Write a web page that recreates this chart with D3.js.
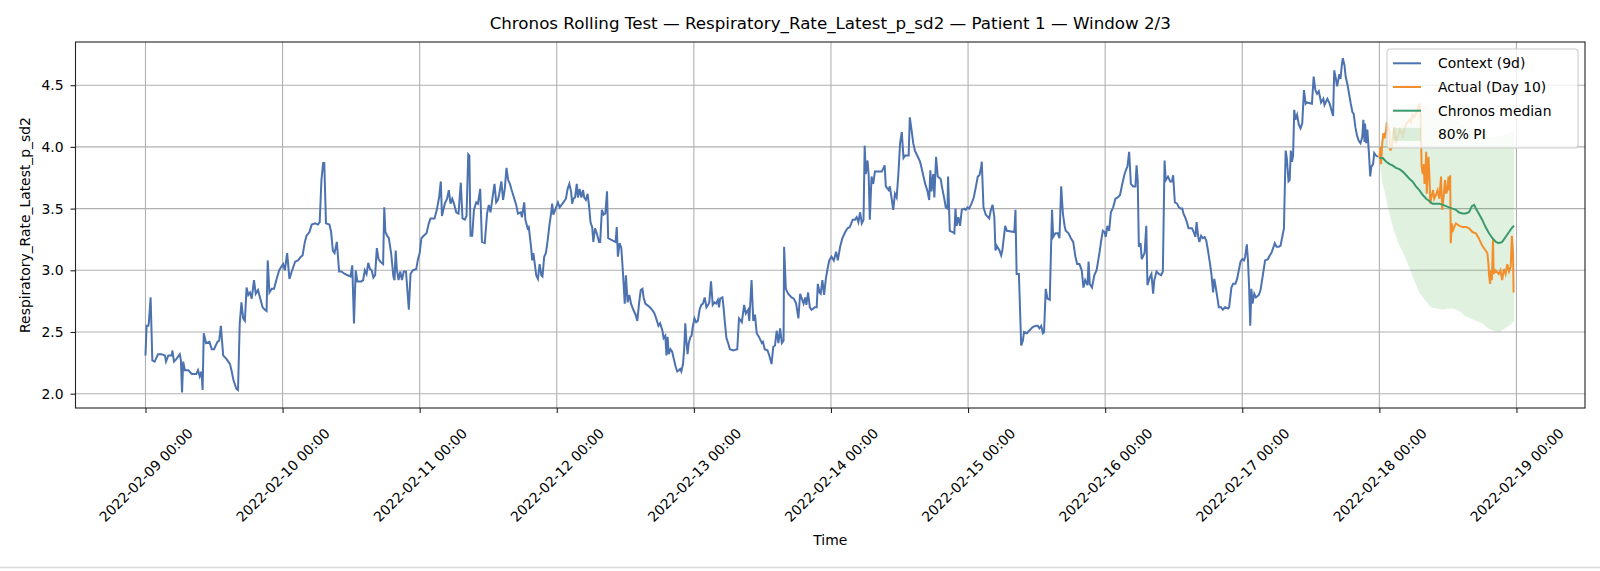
<!DOCTYPE html>
<html>
<head>
<meta charset="utf-8">
<script src="https://cdn.jsdelivr.net/npm/d3@7"></script>
<style>
  body { margin: 0; background: #fff; }
  text { font-family: "DejaVu Sans", sans-serif; fill: #000; }
</style>
</head>
<body>
<svg id="chart"></svg>
<script>
// Chart size
const width = 1600;
const height = 571;
const margin = { top: 42, right: 15, bottom: 163, left: 75.5 };

// Data: [hours since 2022-02-09 00:00, value]
const contextSeries = [
  [0,2.31],[0.2,2.55],[0.5,2.55],[0.6,2.58],[0.9,2.78],[1.2,2.27],[1.6,2.26],[2.2,2.32],[2.8,2.32],[3.4,2.31],
  [3.6,2.26],[4.0,2.31],[4.6,2.31],[4.7,2.35],[5.0,2.26],[5.4,2.28],[6.0,2.32],[6.2,2.27],[6.4,2.01],[6.6,2.26],
  [6.9,2.19],[7.5,2.19],[8.1,2.16],[8.9,2.16],[9.2,2.19],[9.5,2.14],[9.8,2.18],[10.0,2.03],[10.2,2.49],[10.6,2.41],
  [11.2,2.42],[11.6,2.36],[12.0,2.36],[12.6,2.42],[12.9,2.43],[13.2,2.55],[13.6,2.31],[14.2,2.28],[14.8,2.24],[15.1,2.18],
  [15.4,2.11],[15.9,2.04],[16.2,2.03],[16.5,2.57],[16.8,2.74],[17.1,2.61],[17.4,2.59],[17.7,2.86],[18.0,2.80],[18.3,2.82],
  [18.6,2.77],[19.0,2.92],[19.3,2.81],[19.7,2.84],[20.1,2.77],[20.5,2.70],[20.9,2.68],[21.2,2.67],[21.4,3.08],[21.7,2.82],
  [22.1,2.85],[22.5,2.85],[22.9,2.92],[23.4,3.00],[23.8,3.03],[24.1,3.05],[24.4,3.00],[24.8,3.14],[25.2,2.93],[25.6,2.99],
  [26.2,3.07],[26.7,3.08],[27.2,3.11],[27.5,3.12],[27.9,3.23],[28.2,3.28],[28.7,3.31],[29.1,3.37],[29.7,3.38],[30.2,3.37],
  [30.5,3.39],[30.8,3.73],[31.1,3.87],[31.3,3.87],[31.6,3.38],[32.2,3.37],[32.5,3.31],[32.8,3.16],[33.1,3.14],[33.5,3.23],
  [33.9,2.99],[34.3,2.99],[34.9,2.97],[35.4,2.96],[35.9,2.95],[36.2,3.04],[36.5,2.57],[36.8,3.00],[37.1,2.91],[37.8,2.91],
  [38.1,2.92],[38.4,3.00],[38.7,2.97],[39.0,3.06],[39.3,3.01],[39.6,3.00],[39.9,2.94],[40.2,2.96],[40.5,3.18],[40.8,3.09],
  [41.1,3.07],[41.6,3.05],[41.8,3.51],[42.0,3.31],[42.3,3.28],[42.6,3.26],[43.0,3.14],[43.4,2.95],[43.6,2.92],[43.8,3.16],
  [44.0,3.01],[44.3,2.92],[44.6,2.99],[44.9,2.92],[45.2,2.99],[45.6,2.99],[45.9,2.81],[46.1,2.68],[46.4,2.97],[46.8,3.00],
  [47.4,3.01],[47.7,3.09],[48.0,3.14],[48.3,3.26],[48.5,3.27],[48.7,3.28],[49.2,3.30],[49.6,3.38],[49.9,3.42],[50.6,3.42],
  [51.0,3.49],[51.4,3.59],[51.7,3.72],[51.9,3.44],[52.4,3.54],[52.8,3.58],[53.1,3.65],[53.4,3.54],[53.7,3.58],[54.0,3.54],
  [54.4,3.47],[54.8,3.46],[55.2,3.71],[55.5,3.42],[55.9,3.41],[56.2,3.44],[56.5,3.94],[56.7,3.93],[56.9,3.28],[57.2,3.28],
  [57.5,3.49],[57.9,3.55],[58.2,3.54],[58.6,3.66],[58.9,3.23],[59.4,3.22],[59.8,3.46],[60.1,3.53],[60.4,3.47],[60.7,3.57],
  [61.1,3.70],[61.4,3.55],[61.7,3.57],[61.9,3.61],[62.3,3.72],[62.6,3.57],[62.9,3.66],[63.2,3.83],[63.5,3.73],[63.8,3.70],
  [64.1,3.65],[64.5,3.59],[64.9,3.53],[65.2,3.46],[65.7,3.47],[65.9,3.43],[66.3,3.55],[66.5,3.41],[66.9,3.34],[67.1,3.35],
  [67.5,3.19],[67.7,3.08],[67.9,3.14],[68.1,3.07],[68.4,2.96],[68.7,2.93],[69.0,3.05],[69.3,2.96],[69.5,2.95],[69.8,3.11],
  [70.1,3.14],[70.4,3.24],[70.7,3.36],[71.0,3.46],[71.2,3.54],[71.4,3.45],[71.8,3.50],[72.2,3.55],[72.5,3.51],[73.0,3.54],
  [73.6,3.58],[73.9,3.66],[74.2,3.70],[74.5,3.64],[74.7,3.54],[74.9,3.58],[75.2,3.59],[75.5,3.70],[75.7,3.59],[76.0,3.66],
  [76.3,3.59],[76.6,3.65],[76.8,3.59],[77.1,3.57],[77.4,3.62],[77.7,3.50],[77.9,3.39],[78.2,3.35],[78.4,3.23],[78.7,3.34],
  [79.0,3.30],[79.4,3.23],[79.6,3.23],[79.9,3.49],[80.2,3.45],[80.5,3.46],[80.8,3.64],[81.0,3.26],[81.8,3.24],[82.3,3.23],
  [82.5,3.35],[82.7,3.11],[83.0,3.22],[83.3,3.18],[83.6,2.97],[83.9,2.73],[84.1,2.96],[84.4,2.74],[84.7,2.80],[85.0,2.73],
  [85.4,2.68],[85.8,2.64],[86.1,2.59],[86.4,2.73],[86.7,2.84],[87.0,2.85],[87.2,2.78],[87.5,2.73],[88.3,2.70],[88.7,2.68],
  [89.1,2.65],[89.4,2.61],[89.8,2.55],[90.1,2.57],[90.5,2.51],[90.7,2.45],[91.0,2.47],[91.2,2.31],[91.4,2.46],[91.6,2.32],
  [91.9,2.36],[92.2,2.34],[92.5,2.28],[92.8,2.22],[93.1,2.18],[93.4,2.19],[93.6,2.20],[93.8,2.18],[94.1,2.24],[94.3,2.36],
  [94.5,2.57],[94.7,2.42],[94.9,2.32],[95.1,2.41],[95.4,2.46],[95.6,2.47],[95.8,2.54],[96.1,2.61],[96.4,2.58],[96.7,2.59],
  [97.0,2.68],[97.3,2.72],[97.6,2.73],[97.9,2.78],[98.2,2.70],[98.5,2.72],[98.7,2.74],[99.0,2.91],[99.3,2.72],[99.6,2.74],
  [99.9,2.73],[100.2,2.76],[100.4,2.70],[100.6,2.77],[101.0,2.78],[101.2,2.70],[101.4,2.59],[101.7,2.45],[102.0,2.41],[102.3,2.36],
  [102.9,2.35],[103.6,2.36],[103.9,2.61],[104.4,2.58],[104.8,2.72],[105.1,2.65],[105.5,2.68],[105.7,2.59],[106.1,2.92],[106.4,2.59],
  [106.7,2.64],[107.0,2.49],[107.4,2.46],[107.9,2.41],[108.1,2.42],[108.4,2.36],[108.9,2.35],[109.2,2.31],[109.6,2.24],[109.9,2.38],
  [110.2,2.39],[110.5,2.51],[110.8,2.41],[111.1,2.53],[111.4,2.41],[111.7,2.43],[111.8,3.19],[112.1,2.85],[112.5,2.81],[113.1,2.78],
  [113.5,2.77],[113.9,2.73],[114.3,2.61],[114.6,2.81],[114.9,2.77],[115.2,2.73],[115.5,2.78],[115.7,2.72],[116.0,2.82],[116.3,2.70],
  [116.6,2.68],[117.2,2.70],[117.5,2.70],[117.7,2.89],[118.0,2.82],[118.2,2.81],[118.5,2.92],[118.8,2.80],[119.1,2.93],[119.4,3.01],
  [119.7,3.08],[120.1,3.11],[120.5,3.08],[120.9,3.15],[121.2,3.08],[121.6,3.19],[122.0,3.26],[122.5,3.31],[122.9,3.34],[123.3,3.35],
  [123.8,3.41],[124.2,3.41],[124.5,3.43],[124.8,3.39],[125.1,3.47],[125.4,3.38],[125.7,3.41],[125.9,4.01],[126.1,3.78],[126.4,3.89],
  [126.6,3.77],[126.8,3.41],[127.1,3.76],[127.4,3.70],[127.7,3.80],[128.9,3.80],[129.4,3.85],[129.6,3.68],[130.1,3.65],[130.3,3.68],
  [130.6,3.59],[130.9,3.49],[131.2,3.62],[131.5,3.59],[131.8,3.78],[132.1,4.03],[132.4,4.12],[132.7,3.91],[133.0,3.93],[133.6,3.93],
  [133.8,4.24],[134.1,4.14],[134.4,4.03],[134.7,3.97],[135.1,3.93],[135.6,3.88],[135.9,3.82],[136.2,3.76],[136.5,3.70],[136.9,3.64],
  [137.2,3.57],[137.4,3.81],[137.6,3.64],[137.9,3.78],[138.1,3.59],[138.4,3.92],[138.7,3.76],[139.2,3.74],[139.5,3.66],[139.8,3.59],
  [140.1,3.51],[140.4,3.50],[140.5,3.76],[140.8,3.32],[141.3,3.31],[141.6,3.30],[141.8,3.50],[142.0,3.36],[142.3,3.43],[142.6,3.36],
  [142.9,3.49],[143.3,3.50],[143.6,3.49],[143.9,3.51],[144.2,3.50],[144.6,3.54],[145.0,3.59],[145.3,3.66],[145.7,3.76],[146.0,3.77],
  [146.3,3.84],[146.4,3.88],[146.7,3.51],[147.1,3.45],[147.7,3.42],[148.0,3.49],[148.3,3.53],[148.6,3.43],[148.8,3.16],[149.0,3.20],
  [149.5,3.16],[149.8,3.12],[150.0,3.16],[150.5,3.36],[150.8,3.32],[152.1,3.31],[152.3,3.49],[152.5,2.97],[152.9,2.97],[153.3,2.39],
  [153.6,2.43],[153.8,2.50],[154.3,2.49],[154.7,2.51],[155.3,2.54],[155.9,2.55],[156.2,2.55],[156.5,2.53],[156.8,2.55],[157.1,2.49],
  [157.3,2.50],[157.6,2.85],[157.9,2.77],[158.3,2.76],[158.7,3.49],[158.9,3.27],[159.3,3.30],[159.7,3.30],[160.0,3.26],[160.3,3.68],
  [160.6,3.46],[160.9,3.36],[161.1,3.32],[161.6,3.30],[162.0,3.26],[162.4,3.23],[162.8,3.11],[163.1,3.05],[163.5,3.05],[163.9,3.00],
  [164.2,2.86],[164.5,2.92],[164.9,2.88],[165.1,3.07],[165.3,2.89],[165.7,2.86],[166.1,2.96],[166.5,3.00],[167.0,3.14],[167.3,3.24],
  [167.6,3.32],[167.9,3.31],[168.1,3.27],[168.4,3.36],[168.7,3.32],[169.0,3.47],[169.4,3.51],[169.8,3.58],[170.2,3.59],[170.6,3.61],
  [171.0,3.70],[171.4,3.78],[171.7,3.82],[171.9,3.84],[172.2,3.96],[172.5,3.70],[172.9,3.68],[173.3,3.68],[173.5,3.85],[173.7,3.73],
  [173.9,3.19],[174.2,3.22],[174.4,3.09],[174.9,3.14],[175.2,3.36],[175.4,2.88],[175.8,2.94],[176.1,2.97],[176.4,2.81],[176.6,2.92],
  [177.0,2.99],[177.4,2.97],[177.8,2.96],[178.1,2.99],[178.4,3.89],[178.6,3.73],[179.0,3.76],[179.4,3.72],[179.7,3.72],[179.9,3.77],
  [180.2,3.55],[180.6,3.54],[180.9,3.51],[181.2,3.50],[181.5,3.50],[181.7,3.46],[182.0,3.43],[182.3,3.39],[182.6,3.34],[183.2,3.34],
  [183.5,3.31],[183.8,3.27],[184.0,3.39],[184.3,3.27],[184.5,3.23],[184.8,3.28],[185.1,3.26],[185.4,3.27],[185.7,3.24],[186.0,3.16],
  [186.3,3.07],[186.6,2.97],[186.9,2.82],[187.1,2.93],[187.3,2.88],[187.5,2.82],[187.9,2.70],[188.3,2.70],[188.6,2.68],[189.0,2.70],
  [189.5,2.69],[189.7,2.70],[190.1,2.86],[190.4,2.89],[190.8,2.89],[191.1,2.93],[191.4,3.00],[191.7,3.07],[192.0,3.09],[192.3,3.08],
  [192.5,3.11],[192.8,3.21],[193.0,3.08],[193.2,2.86],[193.4,2.55],[193.6,2.85],[193.8,2.73],[194.1,2.81],[194.4,2.78],[194.9,2.80],
  [195.2,2.84],[195.6,2.96],[196.0,3.08],[196.5,3.09],[196.8,3.12],[197.1,3.14],[197.4,3.18],[197.7,3.22],[198.0,3.19],[198.4,3.19],
  [198.7,3.20],[199.0,3.27],[199.3,3.34],[199.4,3.57],[199.6,3.97],[199.8,3.91],[200.1,3.72],[200.3,3.73],[200.5,3.97],[200.7,3.88],
  [200.9,3.93],[201.1,4.30],[201.3,4.22],[201.6,4.26],[201.9,4.18],[202.2,4.15],[202.5,4.19],[202.8,4.46],[203.1,4.35],[203.3,4.36],
  [204.2,4.35],[204.5,4.57],[204.8,4.46],[205.1,4.43],[205.4,4.45],[205.8,4.36],[206.2,4.39],[206.4,4.34],[206.9,4.39],[207.3,4.35],
  [207.6,4.30],[207.9,4.25],[208.1,4.62],[208.4,4.55],[208.6,4.49],[209.0,4.59],[209.2,4.55],[209.4,4.65],[209.6,4.72],[209.9,4.66],
  [210.1,4.57],[210.4,4.51],[210.7,4.43],[211.0,4.35],[211.3,4.28],[211.5,4.27],[211.8,4.16],[212.1,4.09],[212.4,4.05],[212.7,4.03],
  [213.0,4.08],[213.2,4.22],[213.4,4.04],[213.5,4.19],[213.7,4.03],[213.9,4.14],[214.2,3.93],[214.4,3.76],[214.6,3.84],[214.9,3.86],
  [215.1,3.95],[215.4,3.93],[215.75,3.92]
];

const actualSeries = [
  [216.0,3.91],[216.2,4.00],[216.3,3.86],[216.5,4.03],[216.7,4.11],[216.9,4.07],[217.2,4.14],[217.3,4.20],[217.8,4.12],[217.9,3.97],
  [218.2,4.00],[218.4,4.11],[218.6,4.16],[218.9,4.03],[219.1,4.07],[219.6,4.14],[220.1,4.09],[220.4,4.14],[220.7,4.19],[221.3,4.22],
  [221.5,4.20],[221.8,4.26],[222.1,4.24],[222.4,4.27],[222.7,4.30],[223.0,4.35],[223.2,4.27],[223.3,4.05],[223.4,3.84],[223.6,3.78],
  [223.8,3.86],[223.9,3.70],[224.1,3.82],[224.2,3.96],[224.3,3.62],[224.6,3.92],[224.8,3.73],[224.9,3.54],[225.2,3.61],[225.4,3.65],
  [225.6,3.58],[225.9,3.61],[226.2,3.65],[226.5,3.58],[226.8,3.76],[227.0,3.49],[227.3,3.62],[227.5,3.73],[227.7,3.62],[227.9,3.65],
  [228.1,3.76],[228.2,3.65],[228.4,3.77],[228.5,3.22],[228.7,3.38],[228.8,3.31],[229.1,3.35],[229.4,3.38],[230.0,3.36],[230.6,3.35],
  [231.2,3.35],[231.7,3.34],[232.3,3.31],[232.9,3.30],[233.4,3.26],[234.0,3.20],[234.6,3.16],[234.9,3.14],[235.1,3.05],[235.2,2.96],
  [235.4,2.89],[235.5,3.00],[235.7,2.92],[235.9,3.26],[236.0,2.97],[236.3,3.00],[236.9,2.97],[237.2,3.00],[237.5,2.92],[237.8,3.01],
  [238.1,2.97],[238.4,3.05],[238.7,2.99],[239.0,3.03],[239.2,3.28],[239.4,3.14],[239.5,2.82]
];

const medianSeries = [
  [216.0,3.91],[216.6,3.91],[217.2,3.88],[217.8,3.86],[218.3,3.85],[218.9,3.83],[219.5,3.82],[220.1,3.80],[220.7,3.77],[221.3,3.74],
  [221.8,3.72],[222.4,3.68],[223.0,3.65],[223.6,3.61],[224.2,3.58],[224.8,3.56],[225.3,3.54],[225.9,3.54],[226.5,3.54],[227.1,3.53],
  [227.7,3.52],[228.2,3.51],[228.8,3.50],[229.4,3.49],[229.9,3.47],[230.5,3.46],[231.1,3.46],[231.7,3.47],[232.2,3.52],[232.6,3.53],
  [232.9,3.50],[233.4,3.46],[234.0,3.41],[234.6,3.35],[235.2,3.30],[235.8,3.26],[236.4,3.23],[236.9,3.22],[237.5,3.23],[238.1,3.27],
  [238.7,3.31],[239.3,3.35],[239.6,3.36]
];

// 80% prediction interval: [hour, lower, upper]
const piBand = [
  [216.0,3.89,3.93],[216.5,3.72,4.05],[217.0,3.62,4.15],[217.5,3.51,4.22],[218.0,3.41,4.27],[218.5,3.33,4.30],
  [219.0,3.26,4.32],[219.5,3.20,4.33],[220.0,3.16,4.34],[221.0,3.05,4.35],[222.0,2.93,4.35],[223.0,2.82,4.34],
  [224.0,2.76,4.33],[225.0,2.70,4.31],[226.0,2.69,4.29],[227.0,2.68,4.27],[228.0,2.69,4.25],[229.0,2.69,4.22],
  [230.0,2.67,4.20],[231.0,2.63,4.17],[232.0,2.61,4.15],[233.0,2.59,4.12],[234.0,2.57,4.10],[235.0,2.53,4.08],
  [236.0,2.51,4.08],[237.0,2.50,4.09],[238.0,2.53,4.10],[239.0,2.56,4.12],[239.6,2.59,4.14]
];

const yTicks = [2.0, 2.5, 3.0, 3.5, 4.0, 4.5];
const legendLabels = ['Context (9d)', 'Actual (Day 10)', 'Chronos median', '80% PI'];
const colors = { context: '#4c72b0', actual: '#f28e2b', median: '#3a9a6e', band: '#2ca02c' };

const t0 = Date.UTC(2022, 1, 9);
const toDate = (h) => new Date(t0 + h * 3600 * 1000);

const svg = d3.select('#chart')
  .attr('width', width)
  .attr('height', height);

const x = d3.scaleUtc()
  .domain([toDate(-12.25), toDate(252)])
  .range([margin.left, width - margin.right]);

const y = d3.scaleLinear()
  .domain([1.884, 4.85])
  .range([height - margin.bottom, margin.top]);

const xTicks = d3.range(0, 11).map((d) => toDate(d * 24));
const fmt = d3.utcFormat('%Y-%m-%d %H:%M');

// grid
const grid = svg.append('g').attr('stroke', '#b0b0b0').attr('stroke-width', 1.1);
grid.selectAll('.gx').data(xTicks).enter().append('line')
  .attr('x1', (d) => x(d)).attr('x2', (d) => x(d))
  .attr('y1', margin.top).attr('y2', height - margin.bottom);
grid.selectAll('.gy').data(yTicks).enter().append('line')
  .attr('x1', margin.left).attr('x2', width - margin.right)
  .attr('y1', (d) => y(d)).attr('y2', (d) => y(d));

// clip for the plot area
svg.append('clipPath').attr('id', 'clip').append('rect')
  .attr('x', margin.left).attr('y', margin.top)
  .attr('width', width - margin.left - margin.right)
  .attr('height', height - margin.top - margin.bottom);
const plot = svg.append('g').attr('clip-path', 'url(#clip)');

// prediction interval
const area = d3.area()
  .x((d) => x(toDate(d[0])))
  .y0((d) => y(d[1]))
  .y1((d) => y(d[2]));
plot.append('path').datum(piBand)
  .attr('d', area)
  .attr('fill', colors.band)
  .attr('fill-opacity', 0.15);

const line = d3.line()
  .x((d) => x(toDate(d[0])))
  .y((d) => y(d[1]));

plot.append('path').datum(contextSeries)
  .attr('d', line).attr('fill', 'none')
  .attr('stroke', colors.context).attr('stroke-width', 2);
plot.append('path').datum(actualSeries)
  .attr('d', line).attr('fill', 'none')
  .attr('stroke', colors.actual).attr('stroke-width', 2);
plot.append('path').datum(medianSeries)
  .attr('d', line).attr('fill', 'none')
  .attr('stroke', colors.median).attr('stroke-width', 2);

// axes
const xAxis = svg.append('g')
  .attr('transform', `translate(0,${height - margin.bottom})`)
  .call(d3.axisBottom(x).tickValues(xTicks).tickFormat(fmt).tickSize(5).tickSizeOuter(0));
xAxis.select('.domain').remove();
xAxis.selectAll('line').attr('stroke', '#222').attr('stroke-width', 1.1);
xAxis.selectAll('text')
  .attr('font-size', 13.9)
  .attr('fill', '#000')
  .attr('text-anchor', 'middle')
  .attr('dy', null)
  .attr('y', null)
  .attr('dominant-baseline', 'central')
  .attr('transform', 'translate(0,67) rotate(-45)');

const yAxis = svg.append('g')
  .attr('transform', `translate(${margin.left},0)`)
  .call(d3.axisLeft(y).tickValues(yTicks).tickFormat(d3.format('.1f')).tickSize(5).tickPadding(7));
yAxis.select('.domain').remove();
yAxis.selectAll('line').attr('stroke', '#222').attr('stroke-width', 1.1);
yAxis.selectAll('text').attr('font-size', 13.9).attr('fill', '#000');

// frame
svg.append('rect')
  .attr('x', margin.left).attr('y', margin.top)
  .attr('width', width - margin.left - margin.right)
  .attr('height', height - margin.top - margin.bottom)
  .attr('fill', 'none').attr('stroke', '#222').attr('stroke-width', 1.1);

// titles
svg.append('text')
  .attr('x', (margin.left + width - margin.right) / 2).attr('y', 29)
  .attr('text-anchor', 'middle').attr('font-size', 16.7)
  .text('Chronos Rolling Test — Respiratory_Rate_Latest_p_sd2 — Patient 1 — Window 2/3');
svg.append('text')
  .attr('x', (margin.left + width - margin.right) / 2).attr('y', 545)
  .attr('text-anchor', 'middle').attr('font-size', 13.9)
  .text('Time');
svg.append('text')
  .attr('transform', `translate(30,${(margin.top + height - margin.bottom) / 2}) rotate(-90)`)
  .attr('text-anchor', 'middle').attr('font-size', 13.9)
  .text('Respiratory_Rate_Latest_p_sd2');

// legend
const lg = svg.append('g').attr('transform', 'translate(1387,49)');
lg.append('rect')
  .attr('width', 191).attr('height', 99).attr('rx', 3)
  .attr('fill', '#fff').attr('fill-opacity', 0.8)
  .attr('stroke', '#cccccc').attr('stroke-width', 1.1);
const legendColors = [colors.context, colors.actual, colors.median, colors.band];
legendLabels.forEach((label, i) => {
  const cy = 14.3 + i * 23.7;
  if (i < 3) {
    lg.append('line')
      .attr('x1', 6).attr('x2', 34).attr('y1', cy).attr('y2', cy)
      .attr('stroke', legendColors[i]).attr('stroke-width', 2);
  } else {
    lg.append('rect')
      .attr('x', 6).attr('y', cy - 6.5).attr('width', 28).attr('height', 13)
      .attr('fill', legendColors[i]).attr('fill-opacity', 0.15);
  }
  lg.append('text')
    .attr('x', 51).attr('y', cy)
    .attr('dominant-baseline', 'central')
    .attr('font-size', 13.9)
    .text(label);
});

// faint edge line at the bottom of the page, as in the screenshot
svg.append('line')
  .attr('x1', 0).attr('x2', width)
  .attr('y1', 567.5).attr('y2', 567.5)
  .attr('stroke', '#d9d9d9').attr('stroke-width', 1.5);
</script>
</body>
</html>
